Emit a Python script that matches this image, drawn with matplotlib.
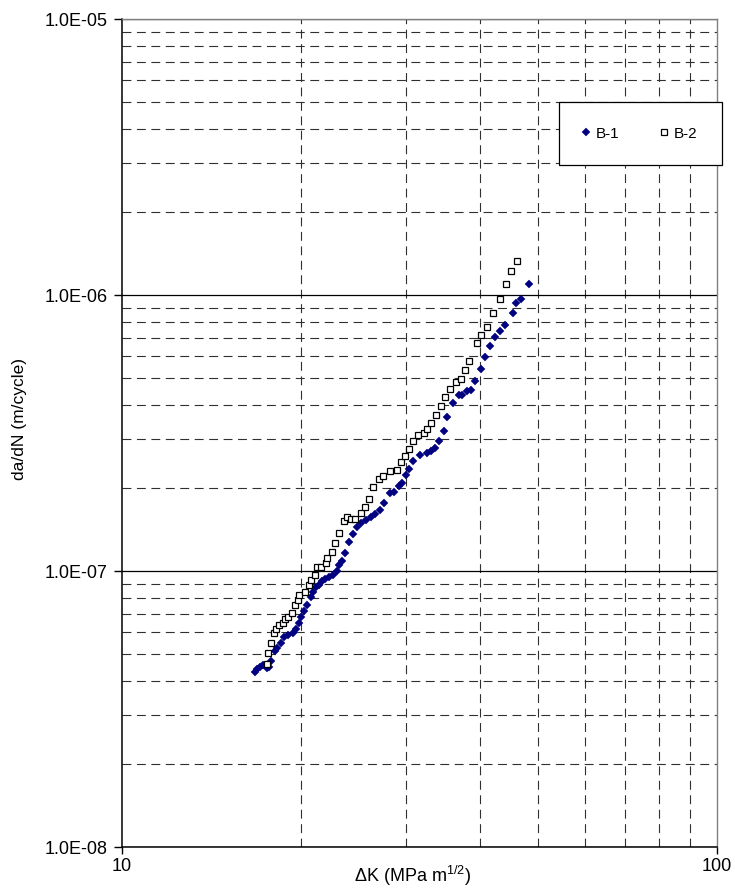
import matplotlib
matplotlib.use("Agg")
import matplotlib.pyplot as plt
from matplotlib.ticker import FixedLocator, FuncFormatter, NullFormatter

plt.rcParams['font.family'] = ['Liberation Sans', 'DejaVu Sans']
plt.rcParams['mathtext.fontset'] = 'custom'
plt.rcParams['mathtext.rm'] = 'Liberation Sans'
plt.rcParams['mathtext.it'] = 'Liberation Sans:italic'

# ---- data ----
b1_dk = [16.73, 16.86, 17.06, 17.26, 17.53, 17.67, 17.80, 18.08, 18.22, 18.50,
         18.72, 19.01, 19.38, 19.61, 19.84, 19.99, 20.22, 20.46, 20.78, 20.94,
         21.19, 21.44, 21.69, 21.94, 22.28, 22.63, 22.98, 23.16, 23.43, 23.71,
         24.08, 24.45, 24.83, 25.22, 25.71, 26.21, 26.62, 27.14, 27.56, 28.21,
         28.65, 29.21, 29.55, 30.01, 30.36, 30.83, 31.68, 32.55, 33.06, 33.58,
         34.10, 34.77, 35.17, 36.00, 36.85, 37.28, 38.01, 38.60, 39.20, 40.12,
         40.74, 41.54, 42.35, 43.18, 44.02, 45.41, 45.94, 46.84, 48.31]
b1_dadn = [4.31e-8, 4.42e-8, 4.49e-8, 4.57e-8, 4.45e-8, 4.49e-8, 4.72e-8, 5.13e-8, 5.26e-8, 5.48e-8,
           5.77e-8, 5.86e-8, 5.96e-8, 6.17e-8, 6.48e-8, 6.81e-8, 7.16e-8, 7.53e-8, 8.05e-8, 8.40e-8,
           8.75e-8, 8.90e-8, 9.20e-8, 9.35e-8, 9.51e-8, 9.67e-8, 1.00e-7, 1.05e-7, 1.09e-7, 1.16e-7,
           1.27e-7, 1.36e-7, 1.44e-7, 1.49e-7, 1.53e-7, 1.57e-7, 1.61e-7, 1.66e-7, 1.76e-7, 1.92e-7,
           1.93e-7, 2.03e-7, 2.08e-7, 2.23e-7, 2.34e-7, 2.50e-7, 2.63e-7, 2.68e-7, 2.72e-7, 2.79e-7,
           2.96e-7, 3.22e-7, 3.61e-7, 4.06e-7, 4.34e-7, 4.34e-7, 4.49e-7, 4.53e-7, 4.88e-7, 5.40e-7,
           5.96e-7, 6.54e-7, 7.04e-7, 7.41e-7, 7.79e-7, 8.61e-7, 9.35e-7, 9.67e-7, 1.10e-6]

b2_dk = [17.53, 17.60, 17.80, 18.01, 18.15, 18.36, 18.65, 18.79, 19.01, 19.31,
         19.53, 19.76, 19.84, 20.30, 20.62, 20.78, 21.10, 21.27, 21.60, 22.02,
         22.11, 22.54, 22.80, 23.16, 23.61, 23.89, 24.26, 24.64, 25.22, 25.61,
         26.01, 26.42, 27.03, 27.45, 28.21, 28.99, 29.44, 29.90, 30.36, 30.83,
         31.44, 32.18, 32.55, 33.06, 33.71, 34.37, 34.91, 35.59, 36.42, 37.13,
         37.71, 38.30, 39.50, 40.12, 41.06, 42.02, 43.18, 44.19, 45.06, 46.12]
b2_dadn = [4.60e-8, 5.05e-8, 5.48e-8, 5.96e-8, 6.17e-8, 6.37e-8, 6.48e-8, 6.70e-8, 6.81e-8, 7.04e-8,
           7.53e-8, 7.85e-8, 8.19e-8, 8.40e-8, 8.90e-8, 9.28e-8, 9.67e-8, 1.03e-7, 1.03e-7, 1.07e-7,
           1.11e-7, 1.17e-7, 1.26e-7, 1.37e-7, 1.52e-7, 1.57e-7, 1.54e-7, 1.54e-7, 1.62e-7, 1.71e-7,
           1.82e-7, 2.02e-7, 2.15e-7, 2.21e-7, 2.30e-7, 2.32e-7, 2.48e-7, 2.61e-7, 2.77e-7, 2.96e-7,
           3.11e-7, 3.16e-7, 3.27e-7, 3.44e-7, 3.68e-7, 3.96e-7, 4.27e-7, 4.57e-7, 4.84e-7, 4.96e-7,
           5.35e-7, 5.77e-7, 6.70e-7, 7.16e-7, 7.66e-7, 8.61e-7, 9.67e-7, 1.10e-6, 1.22e-6, 1.33e-6]

series_labels = ['B-1', 'B-2']
x_major = [10, 100]
y_major = [1e-8, 1e-7, 1e-6, 1e-5]
minor_mult = [2, 3, 4, 5, 6, 7, 8, 9]

# ---- figure ----
W, H = 735, 890
fig = plt.figure(figsize=(W / 100, H / 100), dpi=100)
ax = fig.add_axes([122 / W, 1 - 847 / H, 595 / W, 828 / H])
ax.set_xscale('log')
ax.set_yscale('log')
ax.set_xlim(10, 100)
ax.set_ylim(1e-8, 1e-5)

# grid
xminor = [m * 10 for m in minor_mult]
yminor = [m * d for d in [1e-8, 1e-7, 1e-6] for m in minor_mult]
ax.xaxis.set_major_locator(FixedLocator(x_major))
ax.yaxis.set_major_locator(FixedLocator(y_major))
ax.xaxis.set_minor_locator(FixedLocator(xminor))
ax.yaxis.set_minor_locator(FixedLocator(yminor))
ax.xaxis.set_minor_formatter(NullFormatter())
ax.yaxis.set_minor_formatter(NullFormatter())
ax.set_axisbelow(True)
ax.grid(which='major', axis='y', color='black', lw=0.9, ls='-')
ax.grid(which='minor', axis='both', color='#303030', lw=0.8, ls=(0, (8, 5)))

ax.yaxis.set_major_formatter(FuncFormatter(lambda v, p: '%.1E' % v))
ax.xaxis.set_major_formatter(FuncFormatter(lambda v, p: '%d' % round(v)))

ax.tick_params(which='major', axis='y', direction='out', length=6, width=1, pad=4.5, labelsize=13)
ax.tick_params(which='major', axis='x', direction='out', length=5, width=1, pad=3, labelsize=13)
ax.tick_params(which='minor', length=0)

for s in ['left', 'bottom']:
    ax.spines[s].set_color('black')
    ax.spines[s].set_linewidth(1.1)
for s in ['top', 'right']:
    ax.spines[s].set_color('#808080')
    ax.spines[s].set_linewidth(1.0)

# data
ax.plot(b1_dk, b1_dadn, ls='none', marker='D', ms=4.0, mfc='#000080', mec='#000080',
        mew=0.3, label=series_labels[0], zorder=3)
ax.plot(b2_dk, b2_dadn, ls='none', marker='s', ms=5.0, mfc='white', mec='black',
        mew=0.9, label=series_labels[1], zorder=3)

# labels
ax.set_xlabel('ΔK (MPa m$^{\\mathregular{1/2}}$)', fontsize=13)
ax.xaxis.set_label_coords((413 - 122) / 595, (847 - 864) / 828)
ax.set_ylabel('da/dN (m/cycle)', fontsize=12.5)
ax.yaxis.set_label_coords((27 - 122) / 595, (847 - 419) / 828)

# legend
leg = ax.legend(loc='lower left', bbox_to_anchor=(559 / W, 1 - 165 / H, 163 / W, 66 / H),
                bbox_transform=fig.transFigure, mode='expand', ncol=2, fontsize=11,
                frameon=True, fancybox=False, shadow=False, borderpad=1.6,
                handlelength=0.3, handletextpad=0.5, numpoints=1, borderaxespad=0)
leg.get_frame().set_edgecolor('black')
leg.get_frame().set_linewidth(0.9)
leg.get_frame().set_facecolor('white')
leg.get_frame().set_alpha(1)

fig.savefig('out.png', dpi=100)
